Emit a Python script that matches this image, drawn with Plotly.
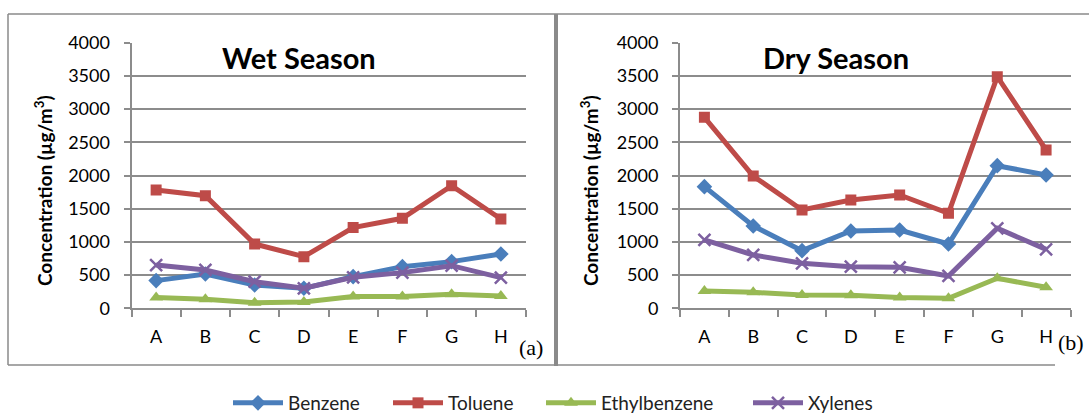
import plotly.graph_objects as go

# Sampling sites
sites = ["A", "B", "C", "D", "E", "F", "G", "H"]

# Wet season concentrations (µg/m³)
wet_benzene = [417, 517, 351, 301, 477, 627, 703, 818]
wet_toluene = [1782, 1696, 969, 778, 1215, 1355, 1847, 1345]
wet_ethylbenzene = [161, 136, 85, 95, 176, 176, 211, 186]
wet_xylenes = [652, 577, 401, 301, 467, 537, 642, 462]

# Dry season concentrations (µg/m³)
dry_benzene = [1832, 1240, 868, 1164, 1179, 969, 2148, 2008]
dry_toluene = [2876, 1992, 1481, 1631, 1706, 1430, 3488, 2384]
dry_ethylbenzene = [261, 241, 201, 196, 161, 151, 452, 316]
dry_xylenes = [1029, 803, 678, 627, 617, 487, 1205, 888]

y_ticks = [0, 500, 1000, 1500, 2000, 2500, 3000, 3500, 4000]

W, H = 1089, 416
FONT = "Lato"
GRID = "#8c8c8c"

# name, colour, marker, wet values, dry values, legend slot (left edge, px)
series = [
    ("Benzene", "#4a7ebb", dict(symbol="diamond", size=12), wet_benzene, dry_benzene, 228),
    ("Toluene", "#be4b48", dict(symbol="square", size=11), wet_toluene, dry_toluene, 388),
    ("Ethylbenzene", "#98b954", dict(symbol="triangle-up", size=12), wet_ethylbenzene, dry_ethylbenzene, 541),
    ("Xylenes", "#7d60a0", dict(symbol="x-thin", size=12), wet_xylenes, dry_xylenes, 748),
]


def px(x):
    return x / W


def py(y):
    return 1 - y / H


fig = go.Figure()
legends = {}
for i, (name, color, mk, wet, dry, lx) in enumerate(series):
    lg = "legend" if i == 0 else f"legend{i + 1}"
    legends[lg] = dict(orientation="h", xref="container", yref="container",
                       x=px(lx), xanchor="left", y=py(403), yanchor="middle",
                       itemwidth=50, font=dict(family=FONT, size=19, color="#222"),
                       bgcolor="rgba(0,0,0,0)")
    marker = dict(color=color, **mk)
    if mk["symbol"] == "x-thin":
        marker["line"] = dict(color=color, width=2.5)
    for vals, xa, ya, show in ((wet, "x", "y", True), (dry, "x2", "y2", False)):
        fig.add_trace(go.Scatter(
            x=sites, y=vals, xaxis=xa, yaxis=ya, name=name, legend=lg,
            mode="lines+markers", showlegend=show, legendgroup=name,
            line=dict(color=color, width=5), marker=marker,
        ))

ydom = [py(308.3), py(42.7)]
axis_common = dict(showline=True, linecolor=GRID, linewidth=2, ticks="outside",
                   tickcolor=GRID, tickwidth=1.5, ticklen=6, automargin=False,
                   tickfont=dict(family=FONT, size=18, color="#000"))

xcommon = dict(axis_common, type="category", tickson="boundaries", showgrid=False,
               range=[-0.5, 7.5], ticklen=7, ticklabelstandoff=11)
ycommon = dict(axis_common, range=[0, 4000], tickvals=y_ticks, showgrid=True,
               gridcolor=GRID, gridwidth=2, zeroline=False, domain=ydom,
               ticklabelstandoff=10)

fig.update_layout(
    width=W, height=H,
    margin=dict(l=0, r=0, t=0, b=0, autoexpand=False),
    paper_bgcolor="white", plot_bgcolor="white",
    xaxis=dict(xcommon, domain=[px(131.5), px(525.5)], anchor="y"),
    yaxis=dict(ycommon, anchor="x"),
    xaxis2=dict(xcommon, domain=[px(680), px(1070.5)], anchor="y2"),
    yaxis2=dict(ycommon, anchor="x2"),
    **legends,
)

# Panel titles, axis titles and panel letters
ytitle = "<b>Concentration (µg/m<sup>3</sup>)</b>"
annots = [
    dict(x=px(299), y=py(58), text="<b>Wet Season</b>", font=dict(family=FONT, size=29)),
    dict(x=px(836), y=py(58), text="<b>Dry Season</b>", font=dict(family=FONT, size=29)),
    dict(x=px(43), y=py(191), text=ytitle, textangle=-90, font=dict(family=FONT, size=19)),
    dict(x=px(589), y=py(191), text=ytitle, textangle=-90, font=dict(family=FONT, size=19)),
    dict(x=px(531), y=py(347), text="(a)", font=dict(family="Liberation Serif", size=22)),
    dict(x=px(1071), y=py(342), text="(b)", font=dict(family="Liberation Serif", size=22)),
]
for a in annots:
    a.update(xref="paper", yref="paper", showarrow=False, xanchor="center", yanchor="middle")
    a["font"]["color"] = "#000"
    fig.add_annotation(**a)

# Panel frames
frame = "#8a8a8a"
lines = [
    (8, 14, 1089, 14, 1.5),
    (8, 14, 8, 365, 1.5),
    (8, 365, 555, 365, 1.5),
    (556, 14, 556, 366, 4),
    (555, 365, 1055, 365, 1.5),
]
for x0, y0, x1, y1, w in lines:
    fig.add_shape(type="line", xref="paper", yref="paper",
                  x0=px(x0), y0=py(y0), x1=px(x1), y1=py(y1),
                  line=dict(color=frame, width=w))

fig.write_html("out.html")
